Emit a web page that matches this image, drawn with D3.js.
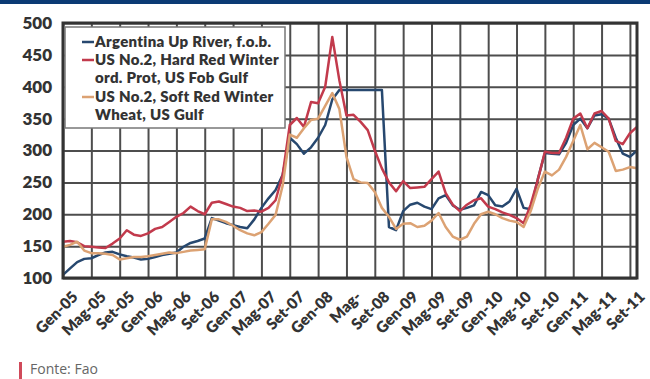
<!DOCTYPE html>
<html><head><meta charset="utf-8">
<script src="https://cdn.jsdelivr.net/npm/d3@7"></script>
<style>body{margin:0;background:#fff}svg{display:block}</style>
</head><body><svg id="c" width="650" height="379"></svg>
<script>
// Monthly prices, Jan 2005 .. Oct 2011 (USD/t)
const argentina = [105,115,125,130,131,136,140,141,137,134,132,129,130,133,136,138,140,149,155,158,162,194,190,186,183,180,178,192,210,225,238,262,320,310,295,305,320,340,380,395,395,395,395,395,395,395,180,175,205,215,218,212,208,225,230,214,207,210,214,235,230,214,212,220,240,210,208,255,296,295,294,312,340,350,335,355,357,350,320,295,290,300];
const hardRed = [157,158,156,150,149,148,147,154,162,175,168,166,170,177,180,188,196,202,212,205,200,218,220,216,212,210,205,206,204,210,222,262,340,351,337,376,374,400,478,410,355,356,345,332,300,272,250,236,252,241,242,243,255,267,233,215,205,215,222,225,212,208,203,199,194,186,215,254,298,296,296,320,350,358,335,358,362,350,315,310,327,337];
const softRed = [149,152,157,143,139,139,138,136,129,131,133,133,134,136,138,140,139,141,143,144,145,192,192,188,182,175,170,167,172,185,199,245,325,320,335,348,350,370,390,365,290,255,250,249,235,210,196,177,185,186,180,182,190,202,180,165,160,165,185,200,204,200,194,190,188,180,205,240,267,261,270,290,315,340,302,312,305,298,268,270,274,272];
const tickLabels = ["Gen-05","Mag-05","Set-05","Gen-06","Mag-06","Set-06","Gen-07","Mag-07","Set-07","Gen-08","Mag-","Set-08","Gen-09","Mag-09","Set-09","Gen-10","Mag-10","Set-10","Gen-11","Mag-11","Set-11"];
const yTicks = [100,150,200,250,300,350,400,450,500];
const legendLabels = [["Argentina Up River, f.o.b."],["US No.2, Hard Red Winter","ord. Prot, US Fob Gulf"],["US No.2, Soft Red Winter","Wheat, US Gulf"]];
const colors = ["#27486f","#c23a4c","#dca273"];

const svg = d3.select("#c");
const L=63, R=637, T=23, B=278;
const x = d3.scaleLinear().domain([0, argentina.length-1]).range([L, R]);
const y = d3.scaleLinear().domain([100, 500]).range([B, T]);
const font = "Lato, 'Open Sans', sans-serif";

// top band
svg.append("rect").attr("x",0).attr("y",0).attr("width",650).attr("height",4).attr("fill","#0b3a74");

// grid
const g = svg.append("g");
g.append("g").attr("transform",`translate(0,${B})`)
  .call(d3.axisBottom(x).tickValues(tickLabels.map((d,i)=>i*4)).tickSize(-(B-T)).tickFormat(""))
  .call(a=>a.select(".domain").remove())
  .call(a=>a.selectAll("line").attr("stroke","#4d4d4d").attr("stroke-width",2));
g.append("g").attr("transform",`translate(${L},0)`)
  .call(d3.axisLeft(y).tickValues(yTicks).tickSize(-(R-L)).tickFormat(""))
  .call(a=>a.select(".domain").remove())
  .call(a=>a.selectAll("line").attr("stroke","#4d4d4d").attr("stroke-width",2));

// y labels
svg.append("g").selectAll("text").data(yTicks).join("text")
  .attr("x",52).attr("y",d=>y(d)).attr("dy","0.35em").attr("text-anchor","end")
  .attr("font-family",font).attr("font-weight",800).attr("font-size",17).attr("fill","#333")
  .text(d=>d);

// x labels
svg.append("g").selectAll("text").data(tickLabels).join("text")
  .attr("transform",(d,i)=>`translate(${x(i*4)+12},${B+16}) rotate(-45)`)
  .attr("text-anchor","end").attr("dy","0.35em")
  .attr("font-family",font).attr("font-weight",800).attr("font-size",15.5).attr("fill","#333")
  .text(d=>d);

// lines
const line = d3.line().x((d,i)=>x(i)).y(d=>y(d));
[argentina, hardRed, softRed].forEach((s,k)=>{
  svg.append("path").datum(s).attr("d",line).attr("fill","none")
    .attr("stroke",colors[k]).attr("stroke-width",2.5).attr("stroke-linejoin","round");
});

// border
svg.append("rect").attr("x",L).attr("y",T).attr("width",R-L).attr("height",B-T)
  .attr("fill","none").attr("stroke","#333").attr("stroke-width",3);

// legend
const lg = svg.append("g");
lg.append("rect").attr("x",65).attr("y",27).attr("width",220).attr("height",101)
  .attr("fill","#fff").attr("stroke","#777").attr("stroke-width",1.5);
const rowY = [42, 60, 78, 97, 115];
let r = 0;
legendLabels.forEach((lines,k)=>{
  lg.append("line").attr("x1",82).attr("x2",94).attr("y1",rowY[r]).attr("y2",rowY[r])
    .attr("stroke",colors[k]).attr("stroke-width",2.5);
  lines.forEach(t=>{
    lg.append("text").attr("x",95).attr("y",rowY[r]).attr("dy","0.35em")
      .attr("font-family",font).attr("font-weight",800).attr("font-size",15).attr("letter-spacing",0.3).attr("fill","#333")
      .text(t);
    r++;
  });
});

// footer
svg.append("rect").attr("x",19).attr("y",362).attr("width",3).attr("height",17).attr("fill","#d04a5a");
svg.append("text").attr("x",30).attr("y",374).attr("font-family","'Open Sans', sans-serif")
  .attr("font-size",14).attr("fill","#666").text("Fonte: Fao");
</script></body></html>
